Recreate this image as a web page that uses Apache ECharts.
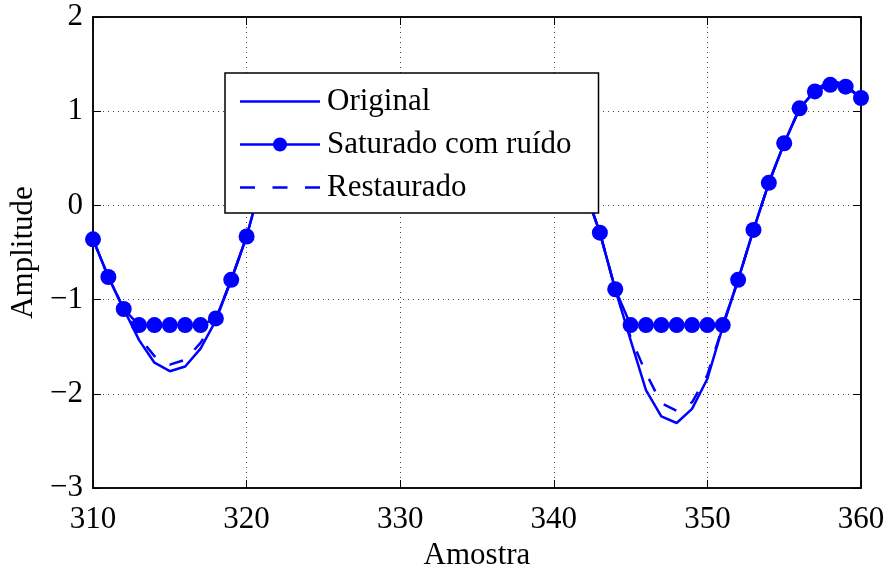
<!DOCTYPE html>
<html>
<head>
<meta charset="utf-8">
<script src="https://cdn.jsdelivr.net/npm/echarts@6/dist/echarts.min.js"></script>
<style>
  html, body { margin: 0; padding: 0; background: #fff; }
  #chart { width: 886px; height: 566px; }
</style>
</head>
<body>
<div id="chart"></div>
<script>
// Sample index (Amostra)
const samples = [
  310, 311, 312, 313, 314, 315, 316, 317, 318, 319,
  320, 321, 322, 323, 324, 325, 326, 327, 328, 329,
  330, 331, 332, 333, 334, 335, 336, 337, 338, 339,
  340, 341, 342, 343, 344, 345, 346, 347, 348, 349,
  350, 351, 352, 353, 354, 355, 356, 357, 358, 359,
  360
];

// Original signal
const original = [
  -0.36, -0.76, -1.10, -1.43, -1.67, -1.76, -1.71, -1.52, -1.22, -0.79,
  -0.33,  0.27,  0.75,  1.05,  1.15,  1.05,  0.80,  0.55,  0.45,  0.50,
   0.70,  0.90,  1.00,  0.95,  0.75,  0.55,  0.50,  0.60,  0.75,  0.80,
   0.70,  0.45,  0.18, -0.29, -0.89, -1.43, -1.96, -2.24, -2.31, -2.16,
  -1.84, -1.29, -0.79, -0.26,  0.24,  0.66,  1.03,  1.22,  1.33,  1.28,
   1.14
];

// Clipped signal with noise
const saturated = [
  -0.36, -0.76, -1.10, -1.27, -1.27, -1.27, -1.27, -1.27, -1.20, -0.79,
  -0.33,  0.27,  0.75,  1.05,  1.15,  1.05,  0.80,  0.55,  0.45,  0.50,
   0.70,  0.90,  1.00,  0.95,  0.75,  0.55,  0.50,  0.60,  0.75,  0.80,
   0.70,  0.45,  0.18, -0.29, -0.89, -1.27, -1.27, -1.27, -1.27, -1.27,
  -1.27, -1.27, -0.79, -0.26,  0.24,  0.66,  1.03,  1.21,  1.28,  1.26,
   1.14
];

// Reconstructed signal
const restored = [
  -0.36, -0.76, -1.10, -1.40, -1.60, -1.69, -1.64, -1.46, -1.20, -0.79,
  -0.33,  0.27,  0.75,  1.05,  1.15,  1.05,  0.80,  0.55,  0.45,  0.50,
   0.70,  0.90,  1.00,  0.95,  0.75,  0.55,  0.50,  0.60,  0.75,  0.80,
   0.70,  0.45,  0.18, -0.29, -0.89, -1.40, -1.78, -2.10, -2.18, -2.09,
  -1.80, -1.28, -0.79, -0.26,  0.24,  0.66,  1.03,  1.22,  1.32,  1.28,
   1.14
];

const xTicks = [310, 320, 330, 340, 350, 360];
const yTicks = [-3, -2, -1, 0, 1, 2];

const FONT = "'Liberation Serif', 'Times New Roman', 'DejaVu Serif', serif";
const BLUE = '#0000ff';

const pairs = (ys) => samples.map((x, i) => [x, ys[i]]);
const fmtNum = (v) => String(v).replace('-', '\u2212');

// Legend glyphs (80 x 14 box): plain line, line with dot, dashed line
const ICON_SOLID = 'path://M0,0H80V2.5H0Z';
const ICON_MARKER = 'path://M0,5.75H80V8.25H0Z M47,7A7,7,0,1,1,33,7A7,7,0,1,1,47,7Z';
const ICON_DASHED = 'path://M0,0H15V2.5H0Z M32.5,0H47.5V2.5H32.5Z M65,0H80V2.5H65Z';

const chart = echarts.init(document.getElementById('chart'), null, { renderer: 'canvas' });

const baseAxisLabel = { fontFamily: FONT, fontSize: 31, color: '#000' };
const gridDots = { show: true, lineStyle: { color: '#444', width: 1, type: [1, 4] } };
const frameLine = { show: true, onZero: false, lineStyle: { color: '#000', width: 1.5 } };
const innerTick = { show: true, inside: true, length: 8, lineStyle: { color: '#000', width: 1 } };

chart.setOption({
  animation: false,
  backgroundColor: '#fff',
  grid: {
    left: 93, top: 17, width: 768, height: 471,
    outerBoundsMode: 'none', containLabel: false,
    show: true, borderColor: '#000', borderWidth: 1.5, backgroundColor: 'transparent'
  },
  xAxis: [
    {
      type: 'value', min: xTicks[0], max: xTicks[xTicks.length - 1], interval: 10,
      position: 'bottom',
      name: 'Amostra', nameLocation: 'middle', nameGap: 37,
      nameTextStyle: { fontFamily: FONT, fontSize: 31, color: '#000' },
      axisLine: frameLine,
      axisTick: innerTick,
      axisLabel: Object.assign({ margin: 16, formatter: (v) => xTicks.includes(v) ? fmtNum(v) : '' }, baseAxisLabel),
      splitLine: gridDots
    },
    {
      type: 'value', min: xTicks[0], max: xTicks[xTicks.length - 1], interval: 10,
      position: 'top',
      axisLine: frameLine,
      axisTick: innerTick,
      axisLabel: { show: false },
      splitLine: { show: false }
    }
  ],
  yAxis: [
    {
      type: 'value', min: yTicks[0], max: yTicks[yTicks.length - 1], interval: 1,
      position: 'left',
      name: 'Amplitude', nameLocation: 'middle', nameGap: 41, nameRotate: 90,
      nameTextStyle: { fontFamily: FONT, fontSize: 31, color: '#000' },
      axisLine: frameLine,
      axisTick: innerTick,
      axisLabel: Object.assign({ margin: 10, formatter: (v) => yTicks.includes(v) ? fmtNum(v) : '' }, baseAxisLabel),
      splitLine: gridDots
    },
    {
      type: 'value', min: yTicks[0], max: yTicks[yTicks.length - 1], interval: 1,
      position: 'right',
      axisLine: frameLine,
      axisTick: innerTick,
      axisLabel: { show: false },
      splitLine: { show: false }
    }
  ],
  legend: {
    orient: 'vertical',
    left: 225, top: 73,
    z: 50,
    backgroundColor: '#fff',
    borderColor: '#000', borderWidth: 1.5, borderRadius: 0,
    padding: [13, 27, 10, 15],
    itemWidth: 80, itemHeight: 14, itemGap: 12,
    symbolKeepAspect: true,
    textStyle: { fontFamily: FONT, fontSize: 31, color: '#000', lineHeight: 30, padding: [0, 0, 0, 2] },
    selectedMode: false,
    data: [
      { name: 'Original', icon: ICON_SOLID },
      { name: 'Saturado com ruído', icon: ICON_MARKER },
      { name: 'Restaurado', icon: ICON_DASHED }
    ]
  },
  series: [
    {
      name: 'Original', type: 'line', xAxisIndex: 0, yAxisIndex: 0,
      data: pairs(original),
      symbol: 'none', showSymbol: false,
      lineStyle: { color: BLUE, width: 2.5 },
      itemStyle: { color: BLUE },
      z: 2
    },
    {
      name: 'Saturado com ruído', type: 'line', xAxisIndex: 0, yAxisIndex: 0,
      data: pairs(saturated),
      symbol: 'circle', symbolSize: 16, showSymbol: true,
      lineStyle: { color: BLUE, width: 2.5 },
      itemStyle: { color: BLUE, borderWidth: 0 },
      z: 3
    },
    {
      name: 'Restaurado', type: 'line', xAxisIndex: 0, yAxisIndex: 0,
      data: pairs(restored),
      symbol: 'none', showSymbol: false,
      lineStyle: { color: BLUE, width: 2.5, type: [14, 16] },
      itemStyle: { color: BLUE },
      z: 4
    }
  ]
});
</script>
</body>
</html>
